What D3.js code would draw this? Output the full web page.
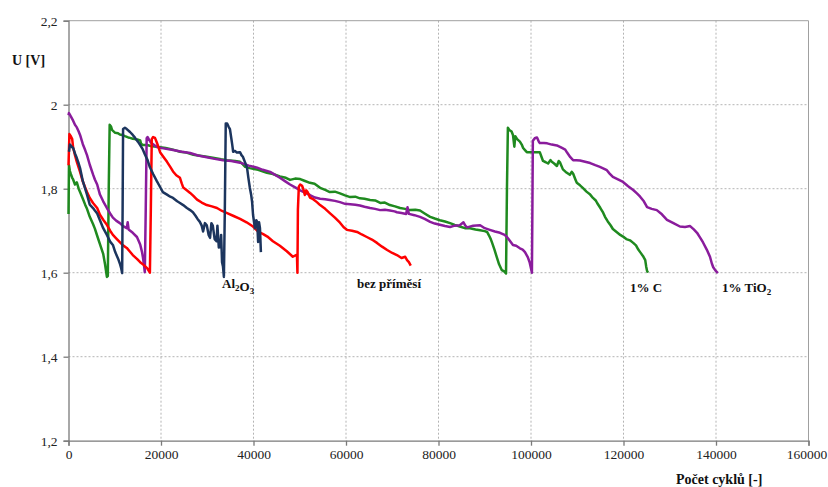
<!DOCTYPE html>
<html>
<head>
<meta charset="utf-8">
<script src="https://cdn.jsdelivr.net/npm/d3@7"></script>
<style>
  html, body { margin: 0; padding: 0; background: #fff; }
  svg text { font-family: "Liberation Serif", "Times New Roman", serif; }
</style>
</head>
<body>
<svg id="chart" width="828" height="487"></svg>
<script>
// Discharge curves: cell voltage U [V] versus cycle count, one series per additive.
const xTicks = [0, 20000, 40000, 60000, 80000, 100000, 120000, 140000, 160000];
const yTicks = [1.2, 1.4, 1.6, 1.8, 2.0, 2.2];
const yTickLabels = ["1,2", "1,4", "1,6", "1,8", "2", "2,2"];

const seriesNames = ["1% C", "1% TiO2", "bez příměsí", "Al2O3"];
const seriesColors = ["#1f8a1f", "#8a1c9c", "#ff0000", "#1c355e"];

// 1% C
const dataC = [
[0,1.74],[100,1.856],[300,1.842],[500,1.835],[800,1.826],[1000,1.822],[1400,1.81],[1800,1.815],[2200,1.80],[2500,1.792],[3100,1.776],[3600,1.762],[4000,1.752],[4600,1.733],[5300,1.716],[5700,1.705],[6200,1.688],[6800,1.668],[7500,1.645],[7900,1.62],[8100,1.605],[8300,1.59],[8500,1.592],
[8700,1.80],[8900,1.952],[9200,1.948],[9400,1.94],[9800,1.936],[10100,1.933],[10700,1.932],[11100,1.929],[11600,1.928],[12200,1.925],[12900,1.922],[13300,1.921],[13900,1.919],[14400,1.918],[15000,1.917],[15500,1.915],[15700,1.907],[16100,1.904],[17000,1.904],[18000,1.901],[19800,1.899],[21000,1.897],[22600,1.893],[24100,1.888],[25500,1.886],[27000,1.881],[29900,1.876],[31500,1.873],[33000,1.870],[34300,1.868],[36000,1.866],[37100,1.864],[37700,1.858],[38200,1.852],[39200,1.849],[41000,1.845],[42900,1.838],[44200,1.835],[45700,1.829],[47000,1.826],[47900,1.821],[49000,1.824],[50100,1.823],[51000,1.819],[52200,1.814],[53200,1.812],[54400,1.802],[55500,1.797],[56500,1.792],[57600,1.793],[58700,1.789],[59800,1.784],[60900,1.780],[62000,1.781],[63000,1.777],[64000,1.776],[65200,1.773],[66300,1.772],[67400,1.766],[68400,1.767],[69500,1.761],[70600,1.758],[71700,1.754],[72800,1.752],[73800,1.749],[75000,1.750],[76000,1.748],[77000,1.741],[78200,1.733],[79200,1.729],[80300,1.725],[81400,1.722],[82500,1.718],[83500,1.714],[84600,1.710],[85700,1.706],[86800,1.706],[88000,1.703],[89000,1.701],[90000,1.699],[90500,1.697],[90900,1.689],[91300,1.680],[91600,1.671],[92100,1.655],[92600,1.637],[93100,1.62],[93700,1.606],[94200,1.603],[94600,1.598],
[94800,1.80],[95000,1.945],[95300,1.94],[95800,1.936],[96100,1.928],[96400,1.90],[96600,1.925],[97000,1.918],[97600,1.912],[98000,1.905],[98300,1.897],[98700,1.892],[99100,1.887],[100200,1.887],[101200,1.887],[101900,1.887],[102300,1.875],[102600,1.866],[103200,1.863],[103700,1.86],[104200,1.868],[104500,1.864],[105000,1.86],[105600,1.854],[106000,1.866],[106300,1.862],[106900,1.846],[107500,1.84],[108400,1.833],[108800,1.84],[109100,1.836],[109600,1.822],[109900,1.814],[110600,1.808],[111200,1.802],[112000,1.793],[112800,1.786],[113400,1.778],[114000,1.772],[114300,1.766],[115000,1.754],[115600,1.743],[116000,1.733],[116600,1.722],[117200,1.713],[117700,1.704],[118500,1.697],[119300,1.69],[119900,1.686],[120600,1.68],[121400,1.677],[122100,1.671],[122700,1.665],[123200,1.655],[123600,1.649],[124200,1.64],[124700,1.63],[124900,1.615],[125100,1.604],[125300,1.600]
];

// 1% TiO2
const dataTiO2 = [
[0,1.975],[100,1.98],[500,1.972],[1000,1.962],[1400,1.952],[1800,1.946],[2200,1.936],[2500,1.928],[3100,1.906],[3600,1.892],[4000,1.88],[4600,1.857],[5300,1.834],[5700,1.822],[6200,1.81],[6800,1.786],[7500,1.77],[8300,1.754],[9000,1.741],[9600,1.731],[10300,1.724],[11100,1.718],[11800,1.711],[12600,1.706],[12800,1.72],[13000,1.703],[13900,1.695],[14800,1.685],[15200,1.675],[15500,1.667],[15900,1.649],[16100,1.636],[16300,1.62],[16500,1.601],
[16700,1.75],[16900,1.92],[17100,1.923],[17300,1.919],[17800,1.91],[18500,1.904],[19100,1.899],[20500,1.896],[22600,1.892],[24500,1.888],[26300,1.885],[28000,1.879],[29900,1.875],[31600,1.871],[33400,1.868],[35200,1.866],[37100,1.862],[39000,1.855],[40800,1.85],[42000,1.845],[43600,1.840],[44500,1.834],[45700,1.826],[46800,1.818],[47900,1.81],[49000,1.803],[50100,1.796],[51000,1.791],[52200,1.785],[53300,1.779],[54400,1.776],[55500,1.775],[56500,1.773],[57600,1.771],[58700,1.768],[59800,1.764],[60900,1.763],[62000,1.762],[63000,1.760],[64000,1.757],[65200,1.754],[66300,1.752],[67400,1.749],[68400,1.750],[69500,1.748],[70500,1.746],[71000,1.744],[72000,1.742],[73000,1.740],[73300,1.756],[73600,1.740],[74800,1.737],[76000,1.733],[77000,1.728],[78200,1.721],[79200,1.717],[80300,1.714],[81400,1.711],[82500,1.709],[83500,1.712],[84600,1.713],[85400,1.72],[85800,1.712],[86200,1.708],[87500,1.712],[89000,1.713],[90000,1.706],[91100,1.702],[92200,1.698],[93300,1.695],[94300,1.69],[94800,1.685],[95500,1.675],[96100,1.666],[96800,1.664],[97600,1.658],[98200,1.655],[98700,1.649],[99300,1.637],[99700,1.625],[100000,1.610],[100200,1.600],
[100300,1.75],[100400,1.914],[100900,1.921],[101300,1.922],[101700,1.912],[101900,1.909],[102800,1.909],[103500,1.908],[104500,1.905],[105600,1.903],[106700,1.897],[107400,1.893],[107800,1.886],[108500,1.875],[109100,1.868],[109800,1.868],[110600,1.867],[111700,1.864],[112800,1.861],[113900,1.856],[114900,1.852],[115700,1.848],[116400,1.844],[117000,1.836],[117700,1.828],[118800,1.822],[119900,1.816],[121000,1.806],[122100,1.797],[122900,1.789],[123600,1.781],[124400,1.77],[125100,1.756],[126100,1.752],[127200,1.749],[128300,1.739],[129400,1.726],[130800,1.718],[132200,1.71],[133300,1.709],[134400,1.711],[135200,1.703],[135900,1.695],[136600,1.683],[137200,1.672],[138000,1.655],[138700,1.638],[139100,1.622],[139400,1.613],[139900,1.605],[140400,1.599]
];

// bez příměsí
const dataPure = [
[0,1.856],[200,1.93],[500,1.925],[800,1.918],[1000,1.898],[1400,1.88],[1800,1.864],[2200,1.85],[2500,1.84],[3100,1.817],[3600,1.803],[4000,1.792],[4600,1.778],[5300,1.766],[6200,1.754],[6800,1.738],[7500,1.726],[8300,1.714],[9000,1.700],[9600,1.690],[10300,1.682],[11100,1.673],[11800,1.665],[12600,1.659],[13300,1.65],[13900,1.642],[14800,1.633],[15500,1.625],[16300,1.618],[17000,1.611],[17600,1.60],
[17800,1.75],[18000,1.918],[18300,1.923],[18700,1.921],[19100,1.91],[19500,1.897],[19800,1.887],[20500,1.876],[21300,1.864],[22000,1.852],[22600,1.841],[23300,1.832],[24100,1.826],[24500,1.812],[24800,1.803],[25500,1.797],[26300,1.79],[27000,1.783],[27800,1.774],[28800,1.767],[29900,1.761],[31000,1.758],[32100,1.754],[33200,1.747],[34300,1.742],[35700,1.735],[37100,1.728],[38500,1.72],[39900,1.71],[41000,1.698],[42100,1.692],[43000,1.686],[44200,1.675],[45700,1.664],[47200,1.651],[48500,1.638],[49200,1.642],[49400,1.64],[49500,1.60],
[49600,1.75],[49800,1.805],[50100,1.81],[50500,1.807],[50800,1.798],[51100,1.785],[51400,1.796],[51700,1.792],[52200,1.779],[52900,1.775],[53700,1.768],[54400,1.761],[55500,1.752],[56500,1.742],[57600,1.731],[58700,1.719],[59500,1.708],[60200,1.702],[61300,1.700],[62400,1.697],[63400,1.691],[64500,1.685],[65600,1.679],[66700,1.671],[67800,1.662],[68900,1.654],[70000,1.647],[71000,1.642],[72000,1.635],[72800,1.638],[73200,1.630],[73600,1.625],[74000,1.617]
];

// Al2O3
const dataAl2O3 = [
[100,1.888],[300,1.905],[700,1.90],[1000,1.897],[1400,1.884],[1800,1.873],[2200,1.86],[2500,1.849],[3100,1.818],[3600,1.80],[4000,1.786],[4600,1.762],[5300,1.754],[5700,1.748],[6200,1.741],[6800,1.725],[7500,1.706],[8300,1.69],[9000,1.674],[9600,1.666],[10100,1.649],[10700,1.634],[11100,1.622],[11400,1.61],[11600,1.599],
[11700,1.75],[11800,1.942],[12200,1.945],[12600,1.942],[13300,1.935],[13900,1.928],[14400,1.921],[15000,1.912],[15500,1.904],[16000,1.895],[16500,1.882],[17100,1.868],[17600,1.851],[18300,1.835],[19100,1.818],[19800,1.804],[20400,1.792],[21300,1.786],[22000,1.781],[22600,1.778],[23500,1.770],[24100,1.766],[24800,1.761],[25600,1.754],[26300,1.749],[26900,1.744],[27500,1.735],[27900,1.728],[28400,1.721],[28800,1.712],[29100,1.698],[29500,1.718],[29900,1.713],[30300,1.69],[30600,1.683],[30900,1.718],[31200,1.712],[31600,1.68],[32000,1.675],[32200,1.712],[32500,1.66],[32800,1.662],[33000,1.69],[33200,1.625],[33400,1.615],[33600,1.59],
[33800,1.75],[34000,1.955],[34300,1.955],[34600,1.948],[34900,1.942],[35200,1.92],[35400,1.905],[35600,1.888],[36000,1.89],[36400,1.886],[37100,1.887],[37400,1.88],[37700,1.876],[38200,1.862],[38600,1.85],[38900,1.825],[39200,1.803],[39500,1.785],[39700,1.768],[39900,1.738],[40100,1.722],[40300,1.706],[40600,1.725],[40800,1.721],[41000,1.673],[41200,1.72],[41400,1.706],[41600,1.649]
];

// Series labels (same order as seriesNames), placed in data units below the curve ends
const labelX = [121400, 141300, 62400, 33200];
const labelY = [1.553, 1.553, 1.563, 1.563];

const seriesData = [dataC, dataTiO2, dataPure, dataAl2O3];

const serif = "'Liberation Serif', 'Times New Roman', serif";
const svg = d3.select("#chart").style("font-family", serif);
const plotLeft = 68.5, plotRight = 808.5, plotTop = 20.7, plotBottom = 440.7;

const x = d3.scaleLinear().domain([0, 160000]).range([plotLeft, plotRight]);
const y = d3.scaleLinear().domain([1.2, 2.2]).range([plotBottom, plotTop]);

// Gridlines
const grid = svg.append("g");
grid.selectAll("line.h").data(yTicks.filter(v => v > 1.2 && v < 2.2)).join("line")
  .attr("x1", plotLeft).attr("x2", plotRight)
  .attr("y1", d => y(d)).attr("y2", d => y(d))
  .attr("stroke", "#b4b4b4").attr("stroke-width", 1).attr("stroke-dasharray", "2,2");
grid.selectAll("line.v").data(xTicks.filter(v => v > 0 && v < 160000)).join("line")
  .attr("x1", d => x(d)).attr("x2", d => x(d))
  .attr("y1", plotTop).attr("y2", plotBottom)
  .attr("stroke", "#b4b4b4").attr("stroke-width", 1).attr("stroke-dasharray", "2,2");
// Plot area border (top and right)
grid.append("line").attr("x1", plotLeft).attr("x2", plotRight).attr("y1", plotTop).attr("y2", plotTop)
  .attr("stroke", "#a0a0a0").attr("stroke-width", 1);
grid.append("line").attr("x1", plotRight).attr("x2", plotRight).attr("y1", plotTop).attr("y2", plotBottom)
  .attr("stroke", "#a0a0a0").attr("stroke-width", 1);

// Axes
const xAxis = d3.axisBottom(x).tickValues(xTicks).tickFormat(d3.format("d")).tickSizeOuter(0).tickSize(5).tickPadding(4);
const yAxis = d3.axisLeft(y).tickValues(yTicks).tickFormat((d, i) => yTickLabels[i]).tickSizeOuter(0).tickSize(5).tickPadding(6);

const gx = svg.append("g").attr("transform", `translate(0,${plotBottom})`).call(xAxis);
const gy = svg.append("g").attr("transform", `translate(${plotLeft},0)`).call(yAxis);
[gx, gy].forEach(g => {
  g.attr("font-family", serif).attr("font-size", 13.5);
  g.select(".domain").attr("stroke", "#7a7a7a").attr("stroke-width", 1.3);
  g.selectAll(".tick line").attr("stroke", "#7a7a7a").attr("stroke-width", 1.3);
  g.selectAll(".tick text").attr("fill", "#222").style("font-family", serif).style("font-size", "13.5px");
});
// keep the last x label inside the frame
gx.selectAll(".tick text").filter(d => d === 160000).attr("dx", -2);

// Curves
const line = d3.line().x(d => x(d[0])).y(d => y(d[1]));
svg.append("g").selectAll("path").data(seriesData).join("path")
  .attr("d", line)
  .attr("fill", "none")
  .attr("stroke", (d, i) => seriesColors[i])
  .attr("stroke-width", 2.5)
  .attr("stroke-linejoin", "round");

// Series labels with subscripts
const labels = svg.append("g").attr("font-weight", "bold").attr("font-size", 13).attr("fill", "#111");
seriesNames.forEach((name, i) => {
  const t = labels.append("text").attr("x", x(labelX[i])).attr("y", y(labelY[i]));
  const parts = name.split(/(\d)/).filter(s => s.length);
  let afterLetter = false;
  parts.forEach(p => {
    if (/^\d$/.test(p) && afterLetter) {
      t.append("tspan").attr("font-size", 9).attr("dy", 3).text(p);
      t.append("tspan").attr("dy", -3).text("");
    } else {
      t.append("tspan").text(p);
    }
    afterLetter = /[A-Za-z]$/.test(p);
  });
});

// Axis titles
svg.append("text").attr("x", 12).attr("y", 65).attr("font-weight", "bold").attr("font-size", 14)
  .attr("fill", "#111").text("U [V]");
svg.append("text").attr("x", 676).attr("y", 484).attr("font-weight", "bold").attr("font-size", 14)
  .attr("fill", "#111").text("Počet cyklů [-]");
</script>
</body>
</html>
